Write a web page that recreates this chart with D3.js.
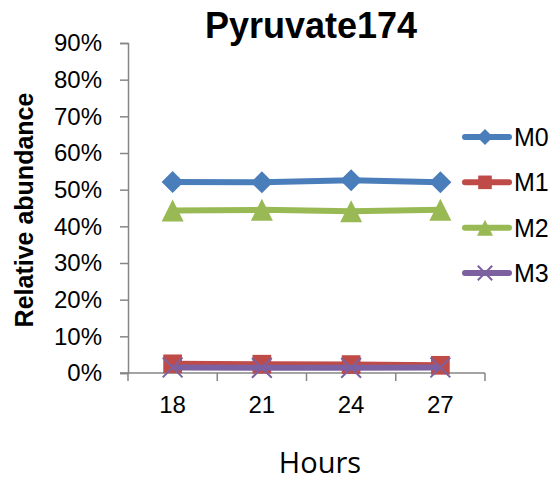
<!DOCTYPE html>
<html>
<head>
<meta charset="utf-8">
<script src="https://cdn.jsdelivr.net/npm/d3@7"></script>
<style>
  body { margin: 0; background: #fff; }
  text { font-family: "Liberation Sans", Arial, sans-serif; }
</style>
</head>
<body>
<svg id="chart" width="553" height="480"></svg>
<script>
// Pyruvate174 isotopologue fractions over time
const hours = ["18", "21", "24", "27"];
const seriesNames = ["M0", "M1", "M2", "M3"];
const m0 = [0.521, 0.520, 0.526, 0.520];
const m1 = [0.025, 0.024, 0.023, 0.021];
const m2 = [0.443, 0.445, 0.441, 0.445];
const m3 = [0.015, 0.014, 0.014, 0.015];
const yTicks = [0, 0.1, 0.2, 0.3, 0.4, 0.5, 0.6, 0.7, 0.8, 0.9];

const colors = ["#4A7EBB", "#BE4B48", "#98B954", "#7D60A0"];
const markers = ["diamond", "square", "triangle", "cross"];
const values = [m0, m1, m2, m3];

const svg = d3.select("#chart");
const plotLeft = 128, plotRight = 485, plotTop = 43, plotBottom = 373;
const axisColor = "#868686";

const x = d3.scaleBand().domain(hours).range([plotLeft, plotRight]).padding(0);
const y = d3.scaleLinear().domain([0, 0.9]).range([plotBottom, plotTop]);
const cx = h => x(h) + x.bandwidth() / 2;

// Title
svg.append("text").attr("x", 311).attr("y", 38)
  .attr("text-anchor", "middle").attr("font-size", 36).attr("font-weight", "bold")
  .text("Pyruvate174");

// Y axis
const yAxis = svg.append("g").attr("transform", `translate(${plotLeft},0)`)
  .call(d3.axisLeft(y).tickValues(yTicks).tickFormat(d3.format(".0%")).tickSize(8).tickPadding(18));
yAxis.selectAll("text").attr("font-size", 24).attr("fill", "#000")
  .style("font-family", "'Liberation Sans', Arial, sans-serif");
yAxis.select("path.domain").attr("stroke", axisColor).attr("stroke-width", 1.5);
yAxis.selectAll(".tick line").attr("stroke", axisColor).attr("stroke-width", 1.5);

// X axis with ticks on category boundaries
const xAxis = svg.append("g").attr("transform", `translate(0,${plotBottom})`);
xAxis.append("line").attr("x1", plotLeft - 8).attr("x2", plotRight).attr("y1", 0).attr("y2", 0)
  .attr("stroke", axisColor).attr("stroke-width", 1.5);
const bounds = hours.map(h => x(h)).concat([plotRight]);
xAxis.selectAll("line.tick").data(bounds).join("line").attr("class", "tick")
  .attr("x1", d => d).attr("x2", d => d).attr("y1", 0).attr("y2", 8)
  .attr("stroke", axisColor).attr("stroke-width", 1.5);
xAxis.selectAll("text").data(hours).join("text")
  .attr("x", d => cx(d)).attr("y", 40)
  .attr("text-anchor", "middle").attr("font-size", 24).text(d => d);

// Axis titles
svg.append("text").attr("x", 320).attr("y", 473).attr("text-anchor", "middle")
  .attr("font-size", 29).style("font-family", "'Open Sans', sans-serif").text("Hours");
svg.append("text").attr("transform", "translate(33,210) rotate(-90)")
  .attr("text-anchor", "middle").attr("font-size", 25).attr("font-weight", "bold")
  .text("Relative abundance");

function drawMarker(g, kind, color, px, py, r) {
  if (kind === "diamond") {
    g.append("path").attr("d", `M${px},${py - r}L${px + r},${py}L${px},${py + r}L${px - r},${py}Z`)
      .attr("fill", color);
  } else if (kind === "square") {
    const s = r * 0.85;
    g.append("rect").attr("x", px - s).attr("y", py - s).attr("width", 2 * s).attr("height", 2 * s)
      .attr("fill", color);
  } else if (kind === "triangle") {
    g.append("path").attr("d", `M${px},${py - r}L${px + r},${py + r}L${px - r},${py + r}Z`)
      .attr("fill", color);
  } else {
    const s = r * 0.9;
    g.append("path").attr("d", `M${px - s},${py - s}L${px + s},${py + s}M${px - s},${py + s}L${px + s},${py - s}`)
      .attr("stroke", color).attr("stroke-width", 2);
  }
}

const line = d3.line().x((d, i) => cx(hours[i])).y(d => y(d));

values.forEach((vals, s) => {
  const g = svg.append("g");
  g.append("path").datum(vals).attr("d", line).attr("fill", "none")
    .attr("stroke", colors[s]).attr("stroke-width", 6).attr("stroke-linejoin", "round");
  vals.forEach((v, i) => drawMarker(g, markers[s], colors[s], cx(hours[i]), y(v), 11));
});

// Legend
const legendY = d3.scalePoint().domain(seriesNames).range([137, 273]);
seriesNames.forEach((name, s) => {
  const g = svg.append("g");
  const ly = legendY(name);
  g.append("line").attr("x1", 465).attr("x2", 509).attr("y1", ly).attr("y2", ly)
    .attr("stroke", colors[s]).attr("stroke-width", 6).attr("stroke-linecap", "round");
  drawMarker(g, markers[s], colors[s], 485, ly, 8);
  g.append("text").attr("x", 514).attr("y", ly + 9).attr("font-size", 25).text(name);
});
</script>
</body>
</html>
